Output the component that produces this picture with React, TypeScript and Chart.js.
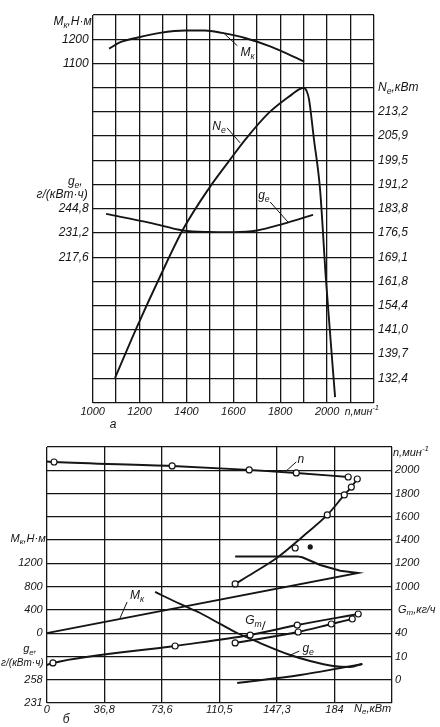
import React, { useEffect, useRef } from 'react';
import { Chart, registerables } from 'chart.js';

Chart.register(...registerables);

const FONT = "'Liberation Sans', Arial, sans-serif";
const INK = '#151515';

// ---------- (а) speed characteristic: values vs n, min^-1 ----------
const topRpmGrid = [1000, 1100, 1200, 1300, 1400, 1500, 1600, 1700, 1800, 1900, 2000, 2100, 2200];
const topRpmLabeled = [1000, 1200, 1400, 1600, 1800, 2000];
// labels by grid row (0 = bottom line, 16 = top line)
const topLeftLabels = ['', '', '', '', '', '', '217,6', '231,2', '244,8', '', '', '', '', '', '1100', '1200', ''];
const topRightLabels = ['', '132,4', '139,7', '141,0', '154,4', '161,8', '169,1', '176,5', '183,8', '191,2', '199,5', '205,9', '213,2', '', '', '', ''];

const mkRpm = [1070, 1116, 1193, 1287, 1394, 1479, 1552, 1650, 1757, 1902];
const mkTorque = [1161, 1187, 1207, 1226, 1236, 1236, 1226, 1205, 1170, 1108];

const neRpm = [1095, 1189, 1287, 1385, 1492, 1586, 1650, 1750, 1850, 1880, 1900, 1914, 1923, 1944, 1970, 1995, 2034];
const nePower = [132.5, 148.0, 163.2, 177.5, 189.6, 198.7, 204.7, 212.8, 218.5, 220.0, 220.5, 219.3, 216.9, 204.8, 189.6, 162.3, 126.7];

const geRpm = [1057, 1245, 1385, 1492, 1599, 1701, 1812, 1940];
const geSpecific = [241.9, 236.9, 232.6, 231.8, 231.7, 232.6, 236.3, 241.4];

// ---------- (б) regulator characteristic: values vs Ne, kW ----------
const botNeTicks = [0, 36.8, 73.6, 110.4, 147.2, 184, 220.8];
const botNeLabels = ['0', '36,8', '73,6', '110,5', '147,3', '184', ''];
const botLeftLabels = ['231', '258', '', '0', '400', '800', '1200', '', '', '', '', ''];
const botRightLabels = ['', '0', '10', '40', '', '1000', '1200', '1400', '1600', '1800', '2000', ''];

const nRegNe = [0, 4.7, 80.2, 129.5, 159.6, 192.8];
const nRegRpm = [2075, 2071, 2037, 2003, 1977, 1942];
const nRegMarks = [0, 3, 3, 3, 3, 3];

const nCorNe = [120.5, 132.0, 148.0, 163.4, 179.4, 190.3, 194.8, 198.6];
const nCorRpm = [1023, 1117, 1255, 1427, 1616, 1788, 1856, 1925];
const nCorMarks = [3, 0, 0, 0, 3, 3, 3, 3];
const nExtraNe = [158.9];
const nExtraRpm = [1332];
const dotNe = [168.5];
const dotRpm = [1341];

const mkBotNe = [0, 199.2, 187.7, 174.9, 163.4, 160.2, 120.5];
const mkBotTorque = [0, 1035, 1074, 1172, 1305, 1320, 1318];

const geUpNe = [69.3, 85.3, 98.1, 110.9, 121.8, 136.5, 155.7, 168.5, 183.2, 194.1, 201.8];
const geUpVal = [359.8, 345.9, 335.4, 322.7, 312.2, 300.6, 286.7, 279.7, 273.9, 272.8, 276.3];
const geLowNe = [121.8, 162.1, 187.7, 201.8];
const geLowVal = [254.2, 263.5, 271.6, 276.3];

const gtRegNe = [0, 4.0, 82.1, 130.1, 160.2, 199.2];
const gtRegVal = [12.7, 14.4, 29.0, 38.4, 47.0, 56.5];
const gtRegMarks = [0, 3, 3, 3, 3, 3];
const gtCorNe = [120.5, 160.8, 182.0, 195.4];
const gtCorVal = [31.6, 41.0, 47.9, 52.2];

type Part = [string, ('sub' | 'sup')?];
type Note = { x: number; y: number; dx?: number; parts: Part[]; align: 'left' | 'right' | 'center'; size: number };
type Leader = [number, number, number, number];

const M_K: Part[] = [['M'], ['к', 'sub']];
const N_E: Part[] = [['N'], ['e', 'sub']];
const G_E: Part[] = [['g'], ['e', 'sub']];
const G_T: Part[] = [['G'], ['т', 'sub']];

const topNotes: Note[] = [
  { x: 1000, dx: -1, y: 15.72, align: 'right', size: 12, parts: [...M_K, [',Н·м']] },
  { x: 1000, dx: -10, y: 9.1, align: 'right', size: 12, parts: [...G_E, [',']] },
  { x: 1000, dx: -5, y: 8.57, align: 'right', size: 12, parts: [['г/(кВт·ч)']] },
  { x: 2200, dx: 4, y: 13, align: 'left', size: 12, parts: [...N_E, [',кВт']] },
  { x: 2075, y: -0.39, align: 'left', size: 10.5, parts: [['n,мин'], ['-1', 'sup']] },
  { x: 1087, y: -0.93, align: 'center', size: 12, parts: [['а']] },
  { x: 1630, y: 14.44, align: 'left', size: 12, parts: M_K },
  { x: 1510, y: 11.38, align: 'left', size: 12, parts: N_E },
  { x: 1706, y: 8.53, align: 'left', size: 12, parts: G_E },
];
const topLeaders: Leader[] = [
  [1557, 15.27, 1617, 14.73],
  [1573, 11.34, 1629, 10.72],
  [1757, 8.28, 1833, 7.45],
];

const botNotes: Note[] = [
  { x: 0, dx: -1, y: 7.05, align: 'right', size: 11, parts: [...M_K, [',Н·м']] },
  { x: 0, dx: -10, y: 2.32, align: 'right', size: 11, parts: [...G_E, [',']] },
  { x: 0, dx: -3, y: 1.72, align: 'right', size: 10, parts: [['г/(кВт·ч)']] },
  { x: 220.8, dx: 1, y: 10.74, align: 'left', size: 11, parts: [['n,мин'], ['-1', 'sup']] },
  { x: 220.8, dx: 6, y: 4.0, align: 'left', size: 11, parts: [...G_T, [',кг/ч']] },
  { x: 208.4, y: -0.24, align: 'center', size: 11, parts: [...N_E, [',кВт']] },
  { x: 12.4, y: -0.73, align: 'center', size: 12, parts: [['б']] },
  { x: 160.3, y: 10.44, align: 'left', size: 12, parts: [['n']] },
  { x: 53.3, y: 4.6, align: 'left', size: 12, parts: M_K },
  { x: 126.9, y: 3.52, align: 'left', size: 12, parts: G_T },
  { x: 163.5, y: 2.32, align: 'left', size: 12, parts: G_E },
];
const botLeaders: Leader[] = [
  [152.5, 9.93, 159.6, 10.36],
  [46.9, 3.65, 51.4, 4.34],
  [137.8, 3.14, 139.7, 3.52],
  [155.8, 2.06, 161.5, 2.23],
];

function drawRich(ctx: CanvasRenderingContext2D, parts: Part[], x: number, y: number, align: string, size: number) {
  const fontOf = (p: Part) => `italic ${p[1] ? size * 0.72 : size}px ${FONT}`;
  const widths = parts.map((p) => {
    ctx.font = fontOf(p);
    return ctx.measureText(p[0]).width;
  });
  const total = widths.reduce((a, b) => a + b, 0);
  let cx = align === 'right' ? x - total : align === 'center' ? x - total / 2 : x;
  parts.forEach((p, i) => {
    ctx.font = fontOf(p);
    const off = p[1] === 'sub' ? size * 0.3 : p[1] === 'sup' ? -size * 0.4 : 0;
    ctx.fillText(p[0], cx, y + off);
    cx += widths[i];
  });
}

function notesPlugin(notes: Note[], leaders: Leader[]) {
  return {
    id: 'notes',
    afterDraw(chart: any) {
      const ctx: CanvasRenderingContext2D = chart.ctx;
      const xs = chart.scales.x;
      const ys = chart.scales.yL;
      ctx.save();
      ctx.fillStyle = INK;
      ctx.strokeStyle = INK;
      ctx.lineWidth = 1;
      ctx.textAlign = 'left';
      ctx.textBaseline = 'middle';
      leaders.forEach(([x1, y1, x2, y2]) => {
        ctx.beginPath();
        ctx.moveTo(xs.getPixelForValue(x1), ys.getPixelForValue(y1));
        ctx.lineTo(xs.getPixelForValue(x2), ys.getPixelForValue(y2));
        ctx.stroke();
      });
      notes.forEach((n) => {
        drawRich(ctx, n.parts, xs.getPixelForValue(n.x) + (n.dx || 0), ys.getPixelForValue(n.y), n.align, n.size);
      });
      ctx.restore();
    },
  };
}

const tickFont = (size: number) => ({ family: FONT, size, style: 'italic' as const });

function gridAxis(position: 'left' | 'right', labels: string[], width: number, size: number, pad: number) {
  return {
    type: 'linear',
    position,
    min: 0,
    max: labels.length - 1,
    afterBuildTicks: (s: any) => {
      s.ticks = labels.map((_, i) => ({ value: i }));
    },
    afterFit: (s: any) => {
      s.width = width;
    },
    ticks: {
      autoSkip: false,
      padding: pad,
      color: INK,
      font: tickFont(size),
      callback: (v: any) => labels[Math.round(Number(v))] ?? '',
    },
    grid: { display: position === 'left', color: INK, lineWidth: 1.3, drawTicks: false },
    border: { display: false },
  };
}

const lineDs = (xs: number[], ys: number[], axis: string, extra: any = {}) => ({
  data: xs.map((x, i) => ({ x, y: ys[i] })),
  yAxisID: axis,
  showLine: true,
  borderColor: INK,
  borderWidth: 1.9,
  pointRadius: 0,
  pointBackgroundColor: '#fff',
  pointBorderColor: INK,
  pointBorderWidth: 1.2,
  cubicInterpolationMode: 'monotone',
  ...extra,
});

export default function App() {
  const topRef = useRef<HTMLCanvasElement>(null);
  const botRef = useRef<HTMLCanvasElement>(null);

  useEffect(() => {
    const top = new Chart(topRef.current as HTMLCanvasElement, {
      type: 'scatter',
      data: {
        datasets: [
          lineDs(mkRpm, mkTorque, 'yMk'),
          lineDs(neRpm, nePower, 'yNe'),
          lineDs(geRpm, geSpecific, 'yGe'),
        ],
      } as any,
      options: {
        responsive: false,
        animation: false,
        layout: { padding: { top: 15, left: 0, right: 0, bottom: 0 } },
        plugins: { legend: { display: false }, tooltip: { enabled: false } },
        scales: {
          x: {
            type: 'linear',
            position: 'bottom',
            min: 1000,
            max: 2200,
            afterBuildTicks: (s: any) => {
              s.ticks = topRpmGrid.map((v) => ({ value: v }));
            },
            afterFit: (s: any) => {
              s.height = 37.5;
            },
            ticks: {
              autoSkip: false,
              maxRotation: 0,
              padding: 3,
              color: INK,
              font: tickFont(11),
              callback: (v: any) => (topRpmLabeled.includes(Number(v)) ? String(v) : ''),
            },
            grid: { color: INK, lineWidth: 1.3, drawTicks: false },
            border: { display: false },
          },
          yL: gridAxis('left', topLeftLabels, 92.7, 12, 4),
          yR: gridAxis('right', topRightLabels, 66, 12, 4),
          yMk: { type: 'linear', display: false, min: -300, max: 1300 },
          yGe: { type: 'linear', display: false, min: 136.0, max: 353.6 },
          yNe: { type: 'linear', display: false, min: 125.055, max: 242.575 },
        },
      } as any,
      plugins: [notesPlugin(topNotes, topLeaders)],
    });

    const bot = new Chart(botRef.current as HTMLCanvasElement, {
      type: 'scatter',
      data: {
        datasets: [
          lineDs(nRegNe, nRegRpm, 'yN', { pointRadius: nRegMarks }),
          lineDs(nCorNe, nCorRpm, 'yN', { pointRadius: nCorMarks }),
          lineDs(nExtraNe, nExtraRpm, 'yN', { showLine: false, pointRadius: 3 }),
          lineDs(dotNe, dotRpm, 'yN', { showLine: false, pointRadius: 2, pointBackgroundColor: INK }),
          lineDs(mkBotNe, mkBotTorque, 'yMk', { cubicInterpolationMode: 'default', tension: 0 }),
          lineDs(geUpNe, geUpVal, 'yGe'),
          lineDs(geLowNe, geLowVal, 'yGe'),
          lineDs(gtRegNe, gtRegVal, 'yGt', { pointRadius: gtRegMarks }),
          lineDs(gtCorNe, gtCorVal, 'yGt', { pointRadius: 3 }),
        ],
      } as any,
      options: {
        responsive: false,
        animation: false,
        layout: { padding: { top: 17, left: 0, right: 0, bottom: 0 } },
        plugins: { legend: { display: false }, tooltip: { enabled: false } },
        scales: {
          x: {
            type: 'linear',
            position: 'bottom',
            min: 0,
            max: 220.8,
            afterBuildTicks: (s: any) => {
              s.ticks = botNeTicks.map((v) => ({ value: v }));
            },
            afterFit: (s: any) => {
              s.height = 24;
            },
            ticks: {
              autoSkip: false,
              maxRotation: 0,
              padding: 0,
              color: INK,
              font: tickFont(11),
              callback: (v: any, i: number) => botNeLabels[i] ?? '',
            },
            grid: { color: INK, lineWidth: 1.3, drawTicks: false },
            border: { display: false },
          },
          yL: gridAxis('left', botLeftLabels, 46.7, 11, 4),
          yR: gridAxis('right', botRightLabels, 48, 11, 3),
          yN: { type: 'linear', display: false, min: 0, max: 2200 },
          yMk: { type: 'linear', display: false, min: -1200, max: 3200 },
          yGe: { type: 'linear', display: false, min: 231, max: 528 },
          yGt: { type: 'linear', display: false, min: -20, max: 200 },
        },
      } as any,
      plugins: [notesPlugin(botNotes, botLeaders)],
    });

    return () => {
      top.destroy();
      bot.destroy();
    };
  }, []);

  return (
    <div style={{ position: 'absolute', left: 0, top: 0, width: 440, height: 727, background: '#fff', overflow: 'hidden' }}>
      <div style={{ position: 'absolute', left: 0, top: 0, width: 440, height: 440 }}>
        <canvas ref={topRef} width={440} height={440} style={{ display: 'block', width: 440, height: 440 }} />
      </div>
      <div style={{ position: 'absolute', left: 0, top: 430, width: 440, height: 297 }}>
        <canvas ref={botRef} width={440} height={297} style={{ display: 'block', width: 440, height: 297 }} />
      </div>
    </div>
  );
}
